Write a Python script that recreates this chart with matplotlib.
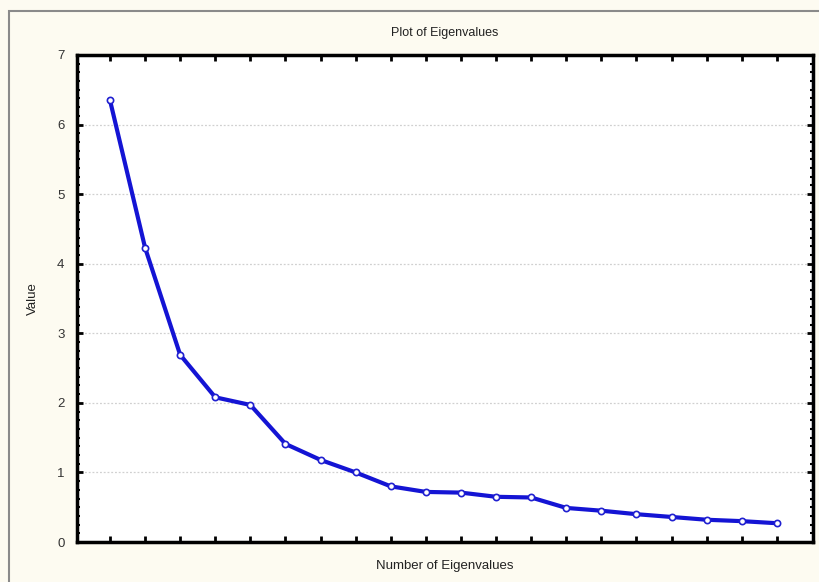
import numpy as np
import matplotlib
matplotlib.use('Agg')
import matplotlib.pyplot as plt
from matplotlib.patches import Rectangle
from matplotlib.ticker import MultipleLocator

#----------------------------------------------------------------
#              DATA
#----------------------------------------------------------------
eig_number = np.arange(1, 21)
eig_values = [6.35, 4.23, 2.69, 2.08, 1.97, 1.41, 1.18, 1.00, 0.80, 0.72,
              0.71, 0.65, 0.64, 0.49, 0.45, 0.40, 0.36, 0.32, 0.30, 0.27]
y_ticks = [0, 1, 2, 3, 4, 5, 6, 7]

plt.rcParams['font.family'] = ['Liberation Sans', 'DejaVu Sans']

bg = '#fdfbf1'
fig = plt.figure(figsize=(8.19, 5.82), dpi=100, facecolor=bg)

# outer frame around the whole graph window
fig.patches.append(Rectangle((0.011, -0.02), 1.0, 0.981 + 0.02, transform=fig.transFigure,
                             fill=False, edgecolor='#8a8a8a', linewidth=1.5))

ax = fig.add_axes([0.094, 0.0687, 0.8987, 0.8368])
ax.set_facecolor('white')

ax.plot(eig_number, eig_values, color='#1414d4', linewidth=3,
        marker='o', markersize=4.5, markerfacecolor='white',
        markeredgecolor='#2020d0', markeredgewidth=1.2, zorder=3)

ax.set_xlim(0.06, 21.03)
ax.set_ylim(0, 7)
ax.set_xticks(eig_number)
ax.set_xticklabels([])
ax.set_yticks(y_ticks)
ax.yaxis.set_minor_locator(MultipleLocator(0.125))

ax.yaxis.grid(True, which='major', color='#d0d0d0', linestyle=(0, (1.5, 1.5)), linewidth=0.9)
ax.set_axisbelow(True)

for s in ax.spines.values():
    s.set_linewidth(2.5)
    s.set_color('black')

ax.tick_params(axis='both', which='major', direction='in', length=4, width=2,
               top=True, right=True, labelsize=9.5, labelcolor='#333333', pad=9)
ax.tick_params(axis='y', which='minor', direction='in', length=2.5, width=1.5,
               right=True)

ax.set_title('Plot of Eigenvalues', fontsize=9, color='#222222', pad=14)
ax.set_xlabel('Number of Eigenvalues', fontsize=9.5, color='#222222', labelpad=4)
ax.set_ylabel('Value', fontsize=9.5, color='#222222', labelpad=13)

fig.savefig('out.png', dpi=100, facecolor=bg)
